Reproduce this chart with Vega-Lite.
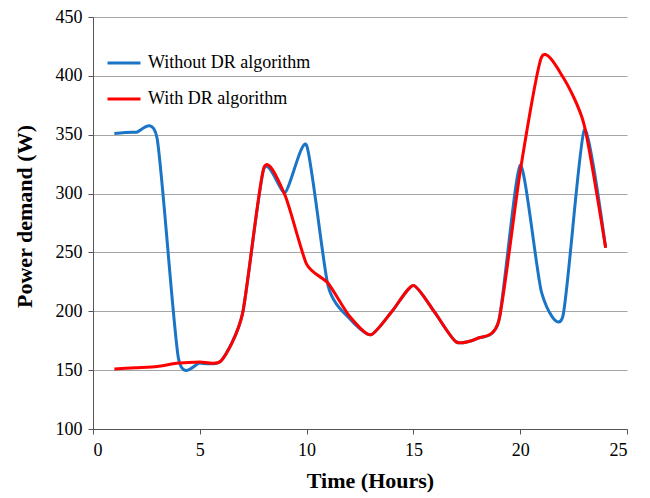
{
  "$schema": "https://vega.github.io/schema/vega-lite/v6.json",
  "width": 534,
  "height": 412,
  "autosize": "none",
  "padding": {"left": 93, "top": 17, "right": 23, "bottom": 69},
  "background": "white",
  "config": {
    "view": {"stroke": null},
    "font": "Liberation Serif"
  },
  "data": {
    "values": [
      {"hour": 1, "series": "Without DR algorithm", "power": 351},
      {"hour": 2, "series": "Without DR algorithm", "power": 352},
      {"hour": 3, "series": "Without DR algorithm", "power": 347},
      {"hour": 4, "series": "Without DR algorithm", "power": 160},
      {"hour": 5, "series": "Without DR algorithm", "power": 156},
      {"hour": 6, "series": "Without DR algorithm", "power": 158},
      {"hour": 7, "series": "Without DR algorithm", "power": 198},
      {"hour": 8, "series": "Without DR algorithm", "power": 321},
      {"hour": 9, "series": "Without DR algorithm", "power": 301},
      {"hour": 10, "series": "Without DR algorithm", "power": 341},
      {"hour": 11, "series": "Without DR algorithm", "power": 222},
      {"hour": 12, "series": "Without DR algorithm", "power": 194},
      {"hour": 13, "series": "Without DR algorithm", "power": 180},
      {"hour": 14, "series": "Without DR algorithm", "power": 200},
      {"hour": 15, "series": "Without DR algorithm", "power": 222},
      {"hour": 16, "series": "Without DR algorithm", "power": 199},
      {"hour": 17, "series": "Without DR algorithm", "power": 174},
      {"hour": 18, "series": "Without DR algorithm", "power": 177},
      {"hour": 19, "series": "Without DR algorithm", "power": 192},
      {"hour": 20, "series": "Without DR algorithm", "power": 324},
      {"hour": 21, "series": "Without DR algorithm", "power": 216},
      {"hour": 22, "series": "Without DR algorithm", "power": 196},
      {"hour": 23, "series": "Without DR algorithm", "power": 354},
      {"hour": 24, "series": "Without DR algorithm", "power": 254},
      {"hour": 1, "series": "With DR algorithm", "power": 151},
      {"hour": 2, "series": "With DR algorithm", "power": 152},
      {"hour": 3, "series": "With DR algorithm", "power": 153},
      {"hour": 4, "series": "With DR algorithm", "power": 156},
      {"hour": 5, "series": "With DR algorithm", "power": 157},
      {"hour": 6, "series": "With DR algorithm", "power": 158},
      {"hour": 7, "series": "With DR algorithm", "power": 198},
      {"hour": 8, "series": "With DR algorithm", "power": 322},
      {"hour": 9, "series": "With DR algorithm", "power": 298},
      {"hour": 10, "series": "With DR algorithm", "power": 240},
      {"hour": 11, "series": "With DR algorithm", "power": 224},
      {"hour": 12, "series": "With DR algorithm", "power": 196},
      {"hour": 13, "series": "With DR algorithm", "power": 180},
      {"hour": 14, "series": "With DR algorithm", "power": 200},
      {"hour": 15, "series": "With DR algorithm", "power": 222},
      {"hour": 16, "series": "With DR algorithm", "power": 199},
      {"hour": 17, "series": "With DR algorithm", "power": 174},
      {"hour": 18, "series": "With DR algorithm", "power": 177},
      {"hour": 19, "series": "With DR algorithm", "power": 192},
      {"hour": 20, "series": "With DR algorithm", "power": 319},
      {"hour": 21, "series": "With DR algorithm", "power": 416},
      {"hour": 22, "series": "With DR algorithm", "power": 399},
      {"hour": 23, "series": "With DR algorithm", "power": 358},
      {"hour": 24, "series": "With DR algorithm", "power": 254}
    ]
  },
  "mark": {"type": "line", "interpolate": "cardinal", "tension": 0.35, "strokeWidth": 3},
  "encoding": {
    "x": {
      "field": "hour",
      "type": "quantitative",
      "scale": {"domain": [0, 25], "nice": false},
      "axis": {
        "values": [0, 5, 10, 15, 20, 25],
        "grid": false,
        "title": "Time (Hours)",
        "titleFont": "Liberation Serif",
        "titleFontSize": 22,
        "titleFontWeight": "bold",
        "titleColor": "black",
        "titlePadding": 11,
        "titleX": 277,
        "labelFont": "Liberation Serif",
        "labelFontSize": 18,
        "labelColor": "black",
        "labelPadding": 7,
        "domainColor": "#555555",
        "tickColor": "#555555",
        "tickSize": 5
      }
    },
    "y": {
      "field": "power",
      "type": "quantitative",
      "scale": {"domain": [100, 450], "nice": false, "zero": false},
      "axis": {
        "values": [100, 150, 200, 250, 300, 350, 400, 450],
        "grid": true,
        "gridColor": "#a6a6a6",
        "gridWidth": 1,
        "title": "Power demand (W)",
        "titleFont": "Liberation Serif",
        "titleFontSize": 22,
        "titleFontWeight": "bold",
        "titleColor": "black",
        "titlePadding": 19,
        "titleY": 199,
        "labelFont": "Liberation Serif",
        "labelFontSize": 18,
        "labelColor": "black",
        "labelPadding": 6,
        "domainColor": "#555555",
        "tickColor": "#555555",
        "tickSize": 5
      }
    },
    "color": {
      "field": "series",
      "type": "nominal",
      "scale": {
        "domain": ["Without DR algorithm", "With DR algorithm"],
        "range": ["#1a75c7", "#ff0000"]
      },
      "legend": {
        "title": null,
        "orient": "none",
        "legendX": 13,
        "legendY": 28,
        "symbolType": "stroke",
        "symbolSize": 1089,
        "symbolStrokeWidth": 3,
        "labelFont": "Liberation Serif",
        "labelFontSize": 18,
        "labelColor": "black",
        "labelOffset": 6,
        "labelLimit": 400,
        "rowPadding": 9
      }
    }
  }
}
